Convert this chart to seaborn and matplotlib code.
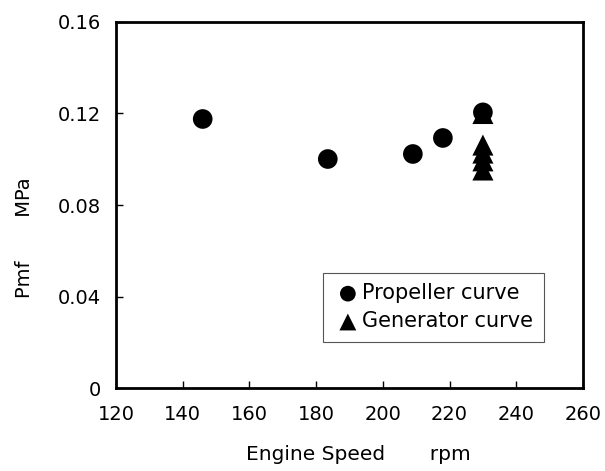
import pandas as pd
import matplotlib.pyplot as plt
import seaborn as sns

# Propeller curve points
prop_speed = [146, 183.5, 209, 218, 230]
prop_pmf = [0.1176, 0.1001, 0.1023, 0.1093, 0.1205]

# Generator curve points (all at 230 rpm)
gen_speed = [230, 230, 230, 230, 230]
gen_pmf = [0.1200, 0.1062, 0.1027, 0.0993, 0.0953]

x_ticks = [120, 140, 160, 180, 200, 220, 240, 260]
y_ticks = [0, 0.04, 0.08, 0.12, 0.16]
y_tick_labels = ['0', '0.04', '0.08', '0.12', '0.16']

sns.set_style('white')
plt.rcParams['font.family'] = ['DejaVu Sans']
plt.rcParams['text.color'] = 'black'
plt.rcParams['axes.labelcolor'] = 'black'

prop_df = pd.DataFrame({'speed': prop_speed, 'pmf': prop_pmf})
gen_df = pd.DataFrame({'speed': gen_speed, 'pmf': gen_pmf})

fig = plt.figure(figsize=(6.05, 4.71), dpi=100)
ax = fig.add_axes([0.1917, 0.1762, 0.7719, 0.7771])

sns.scatterplot(data=gen_df, x='speed', y='pmf', marker='^', s=230, color='black',
                edgecolor='none', label='Generator curve', ax=ax, zorder=3)
sns.scatterplot(data=prop_df, x='speed', y='pmf', marker='o', s=200, color='black',
                edgecolor='none', label='Propeller curve', ax=ax, zorder=4)

ax.set_xlim(120, 260)
ax.set_ylim(0, 0.16)
ax.set_xticks(x_ticks)
ax.set_yticks(y_ticks)
ax.set_yticklabels(y_tick_labels)
ax.tick_params(axis='both', direction='in', length=5, width=1, labelsize=14,
               colors='black', labelcolor='black')
ax.tick_params(axis='x', pad=12)
ax.tick_params(axis='y', pad=11)
ax.tick_params(top=False, right=False, bottom=True, left=True)

for side in ['left', 'right', 'top', 'bottom']:
    ax.spines[side].set_visible(True)
    ax.spines[side].set_color('black')
    ax.spines[side].set_linewidth(2)

ax.set_xlabel('Engine Speed       rpm', fontsize=14.5)
ax.set_ylabel('Pmf       MPa', fontsize=14)
ax.xaxis.set_label_coords(0.518, -0.155)
ax.yaxis.set_label_coords(-0.175, 0.41)

handles, labels = ax.get_legend_handles_labels()
order = [labels.index('Propeller curve'), labels.index('Generator curve')]
leg = ax.legend([handles[i] for i in order], [labels[i] for i in order],
                loc='lower left', bbox_to_anchor=(0.443, 0.126), borderaxespad=0,
                fontsize=15, frameon=True, fancybox=False, framealpha=1,
                edgecolor='#555555', handletextpad=0.0, borderpad=0.5,
                labelspacing=0.4, handlelength=1.4, markerscale=0.8)
leg.get_frame().set_linewidth(0.8)

plt.savefig('out.png', dpi=100)
plt.close()
